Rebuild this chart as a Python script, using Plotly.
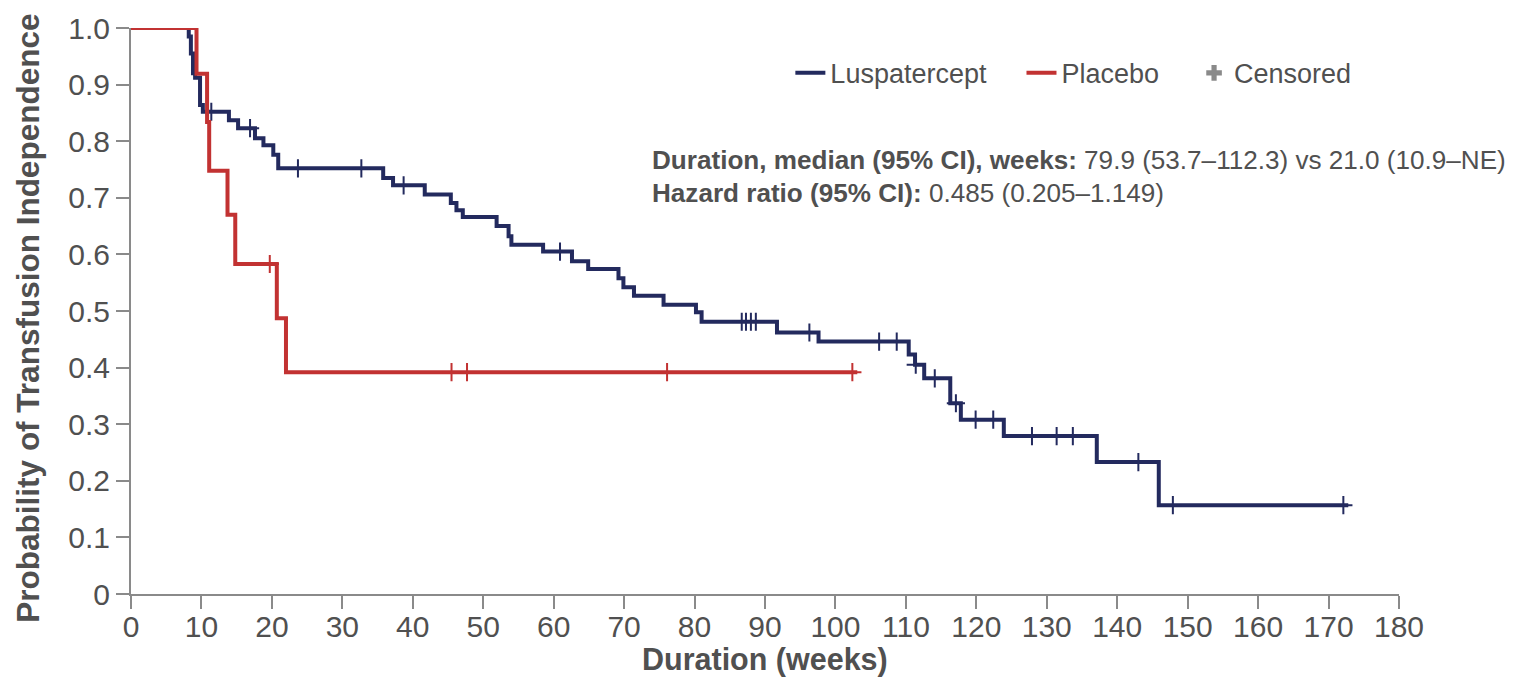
import plotly.graph_objects as go

# ---------------- data ----------------
lusp_event_weeks = [8.2, 8.5, 8.8, 9.1, 9.8, 10.2, 13.9, 15.2, 17.6, 18.8, 20.2, 20.9,
                    35.8, 37.2, 41.7, 45.4, 46.2, 47.1, 51.9, 53.6, 54.0, 58.5, 62.6,
                    64.9, 69.2, 69.9, 71.4, 75.6, 80.2, 81.0, 91.7, 97.6, 110.4, 111.3,
                    112.6, 116.3, 117.8, 123.9, 137.1, 145.9]
lusp_surv = [0.985, 0.955, 0.920, 0.912, 0.864, 0.852, 0.837, 0.823, 0.805, 0.793, 0.776, 0.752,
             0.735, 0.722, 0.706, 0.691, 0.678, 0.666, 0.650, 0.632, 0.617, 0.605, 0.588,
             0.574, 0.558, 0.542, 0.527, 0.511, 0.498, 0.481, 0.462, 0.446, 0.423, 0.405,
             0.381, 0.337, 0.308, 0.279, 0.233, 0.157]
lusp_end_week = 172.8
lusp_censor_weeks = [11.4, 16.9, 23.7, 32.7, 38.7, 60.9, 86.7, 87.3, 88.0, 88.7, 96.3,
                     106.2, 108.7, 111.4, 114.1, 117.1, 119.9, 122.4, 127.9, 131.4, 133.7,
                     143.0, 147.9, 172.1]

plac_event_weeks = [9.3, 10.8, 11.1, 13.7, 14.8, 20.7, 22.0]
plac_surv = [0.919, 0.834, 0.748, 0.670, 0.583, 0.487, 0.392]
plac_end_week = 103.1
plac_censor_weeks = [19.7, 45.5, 47.7, 76.1, 102.4]

y_tick_vals = [0, 0.1, 0.2, 0.3, 0.4, 0.5, 0.6, 0.7, 0.8, 0.9, 1.0]
y_tick_text = ["0", "0.1", "0.2", "0.3", "0.4", "0.5", "0.6", "0.7", "0.8", "0.9", "1.0"]
x_tick_vals = list(range(0, 181, 10))

series_names = ["Luspatercept", "Placebo", "Censored"]
x_title = "Duration (weeks)"
y_title = "Probability of Transfusion Independence"
annot_line1 = ("<b>Duration, median (95% CI), weeks:</b> "
               "79.9 (53.7\u2013112.3) vs 21.0 (10.9\u2013NE)")
annot_line2 = "<b>Hazard ratio (95% CI):</b> 0.485 (0.205\u20131.149)"

# ---------------- styling ----------------
NAVY = "#232a5e"
RED = "#c23232"
GRAY = "#8a8a8a"
TEXT = "#505050"
FONT = "Liberation Sans, Arial, Helvetica, sans-serif"
PAD = "\u00a0" * 4  # spacing after legend labels


def step_xy(events, surv, end):
    xs = [0.0] + list(events) + [end]
    ys = [1.0] + list(surv) + [surv[-1]]
    return xs, ys


def level_at(t, events, surv):
    lvl = 1.0
    for e, s in zip(events, surv):
        if e <= t:
            lvl = s
    return lvl


fig = go.Figure()

for events, surv, end, cens, color, name in [
    (lusp_event_weeks, lusp_surv, lusp_end_week, lusp_censor_weeks, NAVY, series_names[0]),
    (plac_event_weeks, plac_surv, plac_end_week, plac_censor_weeks, RED, series_names[1]),
]:
    xs, ys = step_xy(events, surv, end)
    fig.add_trace(go.Scatter(
        x=xs, y=ys, mode="lines", name=name + PAD,
        line=dict(color=color, width=4, shape="hv"),
        cliponaxis=False, hoverinfo="skip"))
    fig.add_trace(go.Scatter(
        x=cens, y=[level_at(t, events, surv) for t in cens], mode="markers",
        showlegend=False, cliponaxis=False,
        marker=dict(symbol="cross-thin", size=13, color=color,
                    line=dict(color=color, width=2))))

# legend-only entry for censor marks
fig.add_trace(go.Scatter(
    x=[None], y=[None], mode="markers", name=series_names[2],
    marker=dict(symbol="cross", size=13, color=GRAY, line=dict(width=0))))

fig.add_annotation(xref="paper", yref="paper", x=0.409, y=0.767, xanchor="left",
                   yanchor="middle", text=annot_line1, showarrow=False,
                   font=dict(family=FONT, size=26.1, color=TEXT))
fig.add_annotation(xref="paper", yref="paper", x=0.409, y=0.708, xanchor="left",
                   yanchor="middle", text=annot_line2, showarrow=False,
                   font=dict(family=FONT, size=26.1, color=TEXT))

# axis titles as annotations for exact placement
fig.add_annotation(xref="paper", yref="paper", x=-0.081, y=0.487, xanchor="center",
                   yanchor="middle", text="<b>" + y_title + "</b>", textangle=-90,
                   showarrow=False, font=dict(family=FONT, size=31.5, color=TEXT))
fig.add_annotation(xref="paper", yref="paper", x=0.5, y=-0.1155, xanchor="center",
                   yanchor="middle", text="<b>" + x_title + "</b>",
                   showarrow=False, borderpad=0,
                   font=dict(family=FONT, size=30.5, color=TEXT))

axis_common = dict(
    showgrid=False, zeroline=False, showline=True, linecolor=GRAY, linewidth=2,
    ticks="outside", ticklen=13, tickwidth=2, tickcolor=GRAY, automargin=False,
    tickfont=dict(family=FONT, size=30, color=TEXT),
)

fig.update_xaxes(range=[0, 180], tickvals=x_tick_vals, ticklabelstandoff=-8,
                 **axis_common)
fig.update_yaxes(range=[0, 1.0], tickvals=y_tick_vals, ticktext=y_tick_text,
                 **axis_common)

# the page body has an 8 px margin, so margins are reduced by 8 px on left/top
fig.update_layout(
    width=1523, height=677,
    margin=dict(l=123, r=132, t=20, b=91),
    paper_bgcolor="white", plot_bgcolor="white",
    font=dict(family=FONT, color=TEXT),
    showlegend=True,
    legend=dict(orientation="h", x=0.52, y=0.92, xanchor="left", yanchor="middle",
                font=dict(family=FONT, size=27, color=TEXT),
                bgcolor="rgba(0,0,0,0)", itemwidth=30),
)

fig.write_html("out.html")
